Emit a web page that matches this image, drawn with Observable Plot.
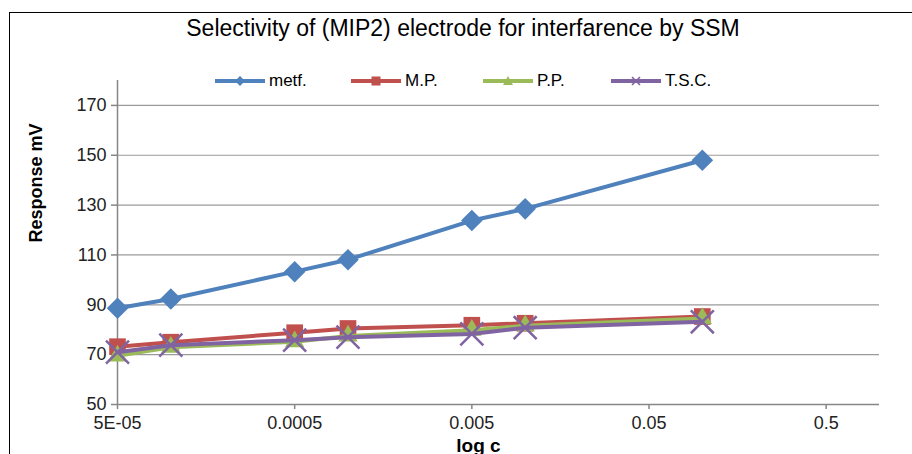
<!DOCTYPE html>
<html>
<head>
<meta charset="utf-8">
<script src="https://cdn.jsdelivr.net/npm/d3@7"></script>
<script src="https://cdn.jsdelivr.net/npm/@observablehq/plot@0.6"></script>
<style>
  body { margin: 0; background: #fff; }
  #wrap { position: relative; width: 912px; height: 454px; overflow: hidden; background: #fff;
          font-family: "Liberation Sans", Arial, sans-serif; }
  #frame { position: absolute; left: 9px; top: 12px; width: 1000px; height: 1000px;
           border: 1.5px solid #000; box-sizing: border-box; }
  #title { position: absolute; left: 0; width: 926px; top: 17px; text-align: center;
           font-size: 23px; line-height: 23px; color: #000; white-space: nowrap; }
  .leg { position: absolute; top: 71px; height: 20px; display: flex; align-items: center;
         font-size: 17px; color: #000; white-space: nowrap; }
  .leg svg { display: block; margin-right: 4px; }
  #chart { position: absolute; left: 0; top: 0; }
</style>
</head>
<body>
<div id="wrap">
  <div id="frame"></div>
  <div id="chart"></div>
  <div id="title">Selectivity of (MIP2) electrode for interfarence by SSM</div>
  <div id="legend"></div>
</div>
<script>
// ---- data ----
const conc = [5e-5, 1e-4, 5e-4, 1e-3, 5e-3, 1e-2, 1e-1];
const metf = [88.6, 92.3, 103.3, 108.1, 123.8, 128.5, 148.0];
const mp   = [73.2, 75.0, 78.8, 80.5, 81.8, 82.6, 85.3];
const pp   = [69.5, 73.0, 75.2, 77.5, 79.8, 81.6, 84.5];
const tsc  = [71.0, 73.8, 75.8, 77.0, 78.3, 80.8, 83.2];
const seriesNames = ["metf.", "M.P.", "P.P.", "T.S.C."];
const xTicks = [5e-5, 5e-4, 5e-3, 0.05, 0.5];
const xTickLabels = ["5E-05", "0.0005", "0.005", "0.05", "0.5"];
const yTicks = [50, 70, 90, 110, 130, 150, 170];

const styles = [
  {color: "#4F81BD", symbol: "square", r: 8.6, rotate: 45, fill: true},
  {color: "#C0504D", symbol: "square", r: 9.4, rotate: 0, fill: true},
  {color: "#9BBB59", symbol: "triangle", r: 7.2, rotate: 0, fill: true},
  {color: "#8064A2", symbol: "times", r: 10.5, rotate: 0, fill: false}
];
const allValues = [metf, mp, pp, tsc];
const rows = allValues.map((vals, i) => vals.map((v, j) => ({x: conc[j], y: v, s: seriesNames[i]})));

const seriesMarks = rows.flatMap((data, i) => {
  const st = styles[i];
  return [
    Plot.line(data, {x: "x", y: "y", stroke: st.color, strokeWidth: 4, strokeLinejoin: "round"}),
    st.fill
      ? Plot.dot(data, {x: "x", y: "y", symbol: st.symbol, r: st.r, rotate: st.rotate, fill: st.color, stroke: "none"})
      : Plot.dot(data, {x: "x", y: "y", symbol: st.symbol, r: st.r, stroke: st.color, strokeWidth: 2.5, fill: "none"})
  ];
});

const xTickRows = xTicks.map((t, i) => ({x: t, label: xTickLabels[i]}));

const chart = Plot.plot({
  width: 912,
  height: 454,
  marginLeft: 117,
  marginRight: 33,
  marginTop: 80,
  marginBottom: 50,
  style: {fontFamily: "'Liberation Sans', Arial, sans-serif", background: "transparent", overflow: "visible"},
  x: {type: "log", domain: [5e-5, 1]},
  y: {domain: [50, 180]},
  marks: [
    Plot.gridY(yTicks.slice(1), {stroke: "#9a9a9a", strokeOpacity: 1, strokeWidth: 1.2}),
    Plot.ruleY([50], {stroke: "#868686", strokeWidth: 1.5}),
    Plot.ruleX([5e-5], {y1: 50, y2: 180, stroke: "#868686", strokeWidth: 1.5}),
    Plot.axisY({ticks: yTicks, tickSize: 6, tickPadding: 5, fontSize: 18, stroke: "#868686", strokeWidth: 1.5, fill: "#222", label: null}),
    Plot.axisX({ticks: xTicks, tickSize: 5, stroke: "#868686", strokeWidth: 1.5, text: null, label: null}),
    Plot.text(xTickRows, {x: "x", text: "label", frameAnchor: "bottom", lineAnchor: "top", dy: 12, fontSize: 18, fill: "#222"}),
    ...seriesMarks,
    Plot.text(["Response mV"], {frameAnchor: "left", dx: -81, rotate: -90, fontWeight: "bold", fontSize: 18, fill: "#000"}),
    Plot.text(["log c"], {frameAnchor: "bottom", dx: -20, dy: 47, fontWeight: "bold", fontSize: 19, fill: "#000"})
  ]
});
document.getElementById("chart").appendChild(chart);

// ---- legend ----
const legendLeft = [215, 351, 483, 611];
const legend = document.getElementById("legend");
seriesNames.forEach((name, i) => {
  const st = styles[i];
  const item = document.createElement("div");
  item.className = "leg";
  item.style.left = legendLeft[i] + "px";
  const w = 50, h = 20, cx = 25, cy = 10;
  let marker = "";
  if (i === 0) marker = `<path d="M${cx},${cy-5}L${cx+5},${cy}L${cx},${cy+5}L${cx-5},${cy}Z" fill="${st.color}"/>`;
  if (i === 1) marker = `<rect x="${cx-4.5}" y="${cy-4.5}" width="9" height="9" fill="${st.color}"/>`;
  if (i === 2) marker = `<path d="M${cx},${cy-5}L${cx+5},${cy+4}L${cx-5},${cy+4}Z" fill="${st.color}"/>`;
  if (i === 3) marker = `<path d="M${cx-4},${cy-4}L${cx+4},${cy+4}M${cx+4},${cy-4}L${cx-4},${cy+4}" stroke="${st.color}" stroke-width="1.6"/>`;
  item.innerHTML = `<svg width="${w}" height="${h}"><line x1="0" x2="${w}" y1="${cy}" y2="${cy}" stroke="${st.color}" stroke-width="4"/>${marker}</svg><span>${name}</span>`;
  legend.appendChild(item);
});
</script>
</body>
</html>
